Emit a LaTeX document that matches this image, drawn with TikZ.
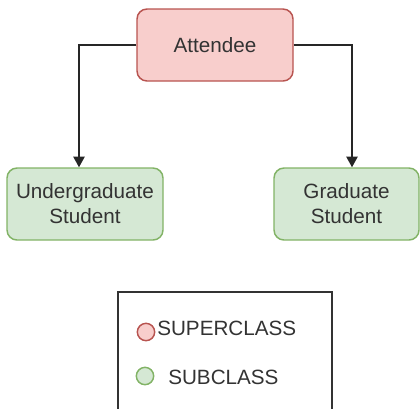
\documentclass[tikz,border=0pt]{standalone}
\usepackage{fontspec}
\setmainfont{Liberation Sans}
\usetikzlibrary{arrows.meta}
\definecolor{redfill}{HTML}{F8CECC}
\definecolor{redline}{HTML}{B85450}
\definecolor{greenfill}{HTML}{D5E8D4}
\definecolor{greenline}{HTML}{82B366}
\definecolor{txt}{HTML}{333333}
\tikzset{
  box/.style={draw, rounded corners=7.5pt, line width=1.1pt, minimum height=54pt,
    inner sep=0pt, align=center, text=txt, font=\fontsize{15.5pt}{18.6pt}\selectfont},
  superbox/.style={box, fill=redfill, draw=redline},
  subbox/.style={box, fill=greenfill, draw=greenline},
  conn/.style={draw=black!85, line width=1.1pt, -{Triangle[length=8pt,width=8.5pt]}},
  dot/.style={circle, inner sep=0pt, minimum size=13pt, line width=1.1pt},
  legtext/.style={anchor=west, inner sep=0pt, text=txt, font=\fontsize{15.5pt}{18.6pt}\selectfont}
}
\begin{document}
\begin{tikzpicture}[x=0.75pt,y=-0.75pt]
\useasboundingbox (0,0) rectangle (420,408);
\clip (0,0) rectangle (420,408);
\node[superbox, minimum width=117pt] (att) at (215,45) {Attendee};
\node[subbox, minimum width=117pt] (ug) at (85,204) {Undergraduate\\Student};
\node[subbox, minimum width=108.75pt] (gr) at (346.5,204) {Graduate\\Student};
\coordinate (c1) at (79,45);
\coordinate (c2) at (352,45);
\draw[conn] (att.west) -- (c1) -- (c1 |- ug.north);
\draw[conn] (att.east) -- (c2) -- (c2 |- gr.north);
\draw[line width=1.1pt, draw=black!80] (118,430) -- (118,292) coordinate (lg) -- (332,292) -- (332,430);
\node[dot, fill=redfill, draw=redline] (d1) at (146,332) {};
\node[legtext] (t1) at (157,328) {SUPERCLASS};
\node[dot, fill=greenfill, draw=greenline] (d2) at (145,376) {};
\node[legtext] (t2) at (168,377) {SUBCLASS};
\end{tikzpicture}
\end{document}
